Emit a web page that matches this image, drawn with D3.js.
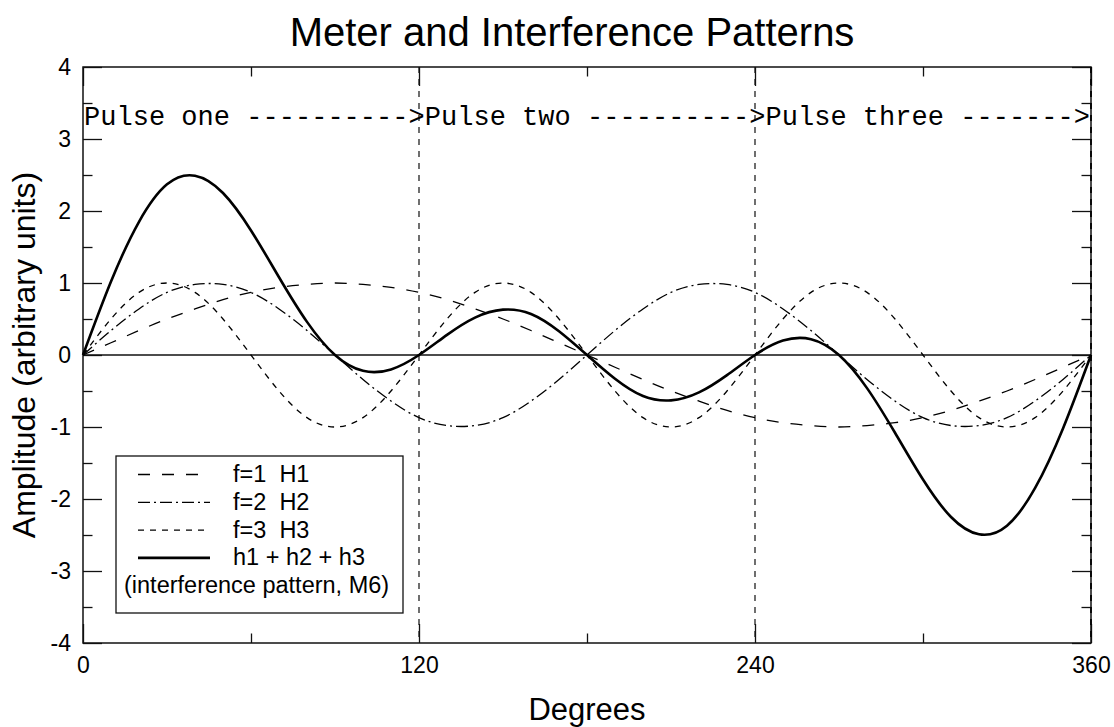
<!DOCTYPE html>
<html>
<head>
<meta charset="utf-8">
<script src="https://cdn.jsdelivr.net/npm/d3@7"></script>
<style>
  html, body { margin: 0; padding: 0; background: #fff; }
  svg { display: block; }
</style>
</head>
<body>
<svg id="chart" width="1114" height="727"></svg>
<script>
// ---------------- data ----------------
const degrees = [0,10,20,30,40,50,60,70,80,90,100,110,120,130,140,150,160,170,180,
                 190,200,210,220,230,240,250,260,270,280,290,300,310,320,330,340,350,360];
const h1 = [0,0.17,0.34,0.50,0.64,0.77,0.87,0.94,0.98,1.00,0.98,0.94,0.87,0.77,0.64,0.50,0.34,0.17,0,
            -0.17,-0.34,-0.50,-0.64,-0.77,-0.87,-0.94,-0.98,-1.00,-0.98,-0.94,-0.87,-0.77,-0.64,-0.50,-0.34,-0.17,0];
const h2 = [0,0.34,0.64,0.87,0.98,0.98,0.87,0.64,0.34,0,-0.34,-0.64,-0.87,-0.98,-0.98,-0.87,-0.64,-0.34,0,
            0.34,0.64,0.87,0.98,0.98,0.87,0.64,0.34,0,-0.34,-0.64,-0.87,-0.98,-0.98,-0.87,-0.64,-0.34,0];
const h3 = [0,0.50,0.87,1.00,0.87,0.50,0,-0.50,-0.87,-1.00,-0.87,-0.50,0,0.50,0.87,1.00,0.87,0.50,0,
            -0.50,-0.87,-1.00,-0.87,-0.50,0,0.50,0.87,1.00,0.87,0.50,0,-0.50,-0.87,-1.00,-0.87,-0.50,0];
const hSum = [0,1.02,1.85,2.37,2.49,2.25,1.73,1.08,0.46,0,-0.22,-0.20,0,0.28,0.52,0.63,0.57,0.33,0,
              -0.33,-0.57,-0.63,-0.52,-0.28,0,0.20,0.22,0,-0.46,-1.08,-1.73,-2.25,-2.49,-2.37,-1.85,-1.02,0];

const xMajorTicks = [0,120,240,360];
const xMinorTicks = [60,180,300];
const xTickLabels = ["0","120","240","360"];
const yMajorTicks = [-4,-3,-2,-1,0,1,2,3,4];
const yMinorTicks = [-3.5,-2.5,-1.5,-0.5,0.5,1.5,2.5,3.5];
const yTickLabels = ["-4","-3","-2","-1","0","1","2","3","4"];
const pulseLines = [120,240,360];
const pulseLabels = ["Pulse one ---------->","Pulse two ---------->","Pulse three ------->"];
const legendLabels = ["f=1  H1","f=2  H2","f=3  H3","h1 + h2 + h3"];
const legendNote = "(interference pattern, M6)";
const titleText = "Meter and Interference Patterns";
const xTitle = "Degrees";
const yTitle = "Amplitude (arbitrary units)";

// ---------------- layout ----------------
const L = 83, R = 1091, T = 67, B = 643;
const sans = "'Liberation Sans', Arial, Helvetica, sans-serif";
const mono = "'Liberation Mono', 'Courier New', Courier, monospace";

const svg = d3.select("#chart");
const x = d3.scaleLinear().domain([0,360]).range([L,R]);
const y = d3.scaleLinear().domain([-4,4]).range([B,T]);

// dashed vertical pulse lines
svg.append("g").selectAll("line").data(pulseLines).join("line")
  .attr("x1", d => x(d)).attr("x2", d => x(d))
  .attr("y1", T).attr("y2", B)
  .attr("stroke", "#222").attr("stroke-width", 1.3)
  .attr("stroke-dasharray", "6,6");

// zero line
svg.append("line")
  .attr("x1", L).attr("x2", R).attr("y1", y(0)).attr("y2", y(0))
  .attr("stroke", "#111").attr("stroke-width", 1.3);

// axes (ticks inward)
function tickAxis(axisFn, scale, values, size, translate) {
  const g = svg.append("g").attr("transform", translate)
    .call(axisFn(scale).tickValues(values).tickSize(-size).tickSizeOuter(0).tickFormat(""));
  g.select(".domain").remove();
  g.selectAll(".tick line").attr("stroke", "#111").attr("stroke-width", 1.3);
  return g;
}
tickAxis(d3.axisLeft, y, yMajorTicks, 19, `translate(${L},0)`);
tickAxis(d3.axisLeft, y, yMinorTicks, 9.5, `translate(${L},0)`);
tickAxis(d3.axisRight, y, yMajorTicks, 19, `translate(${R},0)`);
tickAxis(d3.axisRight, y, yMinorTicks, 9.5, `translate(${R},0)`);
tickAxis(d3.axisBottom, x, xMajorTicks, 19, `translate(0,${B})`);
tickAxis(d3.axisBottom, x, xMinorTicks, 9.5, `translate(0,${B})`);
tickAxis(d3.axisTop, x, xMajorTicks, 19, `translate(0,${T})`);
tickAxis(d3.axisTop, x, xMinorTicks, 9.5, `translate(0,${T})`);

// tick labels
const yLab = svg.append("g").attr("transform", `translate(${L},0)`)
  .call(d3.axisLeft(y).tickValues(yMajorTicks).tickSize(0).tickPadding(12)
        .tickFormat((d,i) => yTickLabels[i]));
yLab.select(".domain").remove();
yLab.selectAll("text").attr("font-family", sans).attr("font-size", 23).attr("fill", "#000");

const xLab = svg.append("g").attr("transform", `translate(0,${B})`)
  .call(d3.axisBottom(x).tickValues(xMajorTicks).tickSize(0).tickPadding(14)
        .tickFormat((d,i) => xTickLabels[i]));
xLab.select(".domain").remove();
xLab.selectAll("text").attr("font-family", sans).attr("font-size", 23).attr("fill", "#000");

// frame
svg.append("rect").attr("x", L).attr("y", T).attr("width", R-L).attr("height", B-T)
  .attr("fill", "none").attr("stroke", "#111").attr("stroke-width", 1.5);
// redraw dashed at right edge over frame
svg.append("line").attr("x1", x(360)).attr("x2", x(360)).attr("y1", T).attr("y2", B)
  .attr("stroke", "#000").attr("stroke-width", 1.5).attr("stroke-dasharray", "6,6");

// curves
const series = [
  {vals: h1, dash: "12,12", w: 1.3},
  {vals: h2, dash: "12,4,2,4", w: 1.3},
  {vals: h3, dash: "6,6", w: 1.3},
  {vals: hSum, dash: null, w: 2.6}
];
const line = d3.line().x(d => x(d[0])).y(d => y(d[1])).curve(d3.curveNatural);
series.forEach(s => {
  svg.append("path")
    .datum(degrees.map((d,i) => [d, s.vals[i]]))
    .attr("d", line)
    .attr("fill", "none").attr("stroke", "#000")
    .attr("stroke-width", s.w)
    .attr("stroke-dasharray", s.dash);
});

// pulse annotation
svg.append("text")
  .attr("x", L + 1).attr("y", 125)
  .attr("font-family", mono).attr("font-size", 27)
  .attr("textLength", R - L - 2).attr("lengthAdjust", "spacing")
  .attr("xml:space", "preserve").style("white-space", "pre")
  .text(pulseLabels.join(""));

// legend
const lg = svg.append("g");
lg.append("rect").attr("x", 116).attr("y", 456).attr("width", 287).attr("height", 157)
  .attr("fill", "#fff").attr("stroke", "#111").attr("stroke-width", 1.3);
legendLabels.forEach((lab, i) => {
  const by = 482 + i * 27.8;
  lg.append("line").attr("x1", 138).attr("x2", 210).attr("y1", by - 7.5).attr("y2", by - 7.5)
    .attr("stroke", "#000").attr("stroke-width", series[i].w)
    .attr("stroke-dasharray", series[i].dash);
  lg.append("text").attr("x", 233).attr("y", by)
    .attr("font-family", sans).attr("font-size", 23.5)
    .attr("xml:space", "preserve").style("white-space", "pre")
    .text(lab);
});
lg.append("text").attr("x", 124).attr("y", 482 + 4 * 27.8)
  .attr("font-family", sans).attr("font-size", 23.5).text(legendNote);

// titles
svg.append("text").attr("x", 572).attr("y", 46).attr("text-anchor", "middle")
  .attr("font-family", sans).attr("font-size", 40).text(titleText);
svg.append("text").attr("x", (L+R)/2).attr("y", 720).attr("text-anchor", "middle")
  .attr("font-family", sans).attr("font-size", 31).text(xTitle);
svg.append("text").attr("transform", `translate(35,${(T+B)/2}) rotate(-90)`)
  .attr("text-anchor", "middle")
  .attr("font-family", sans).attr("font-size", 32).text(yTitle);
</script>
</body>
</html>
